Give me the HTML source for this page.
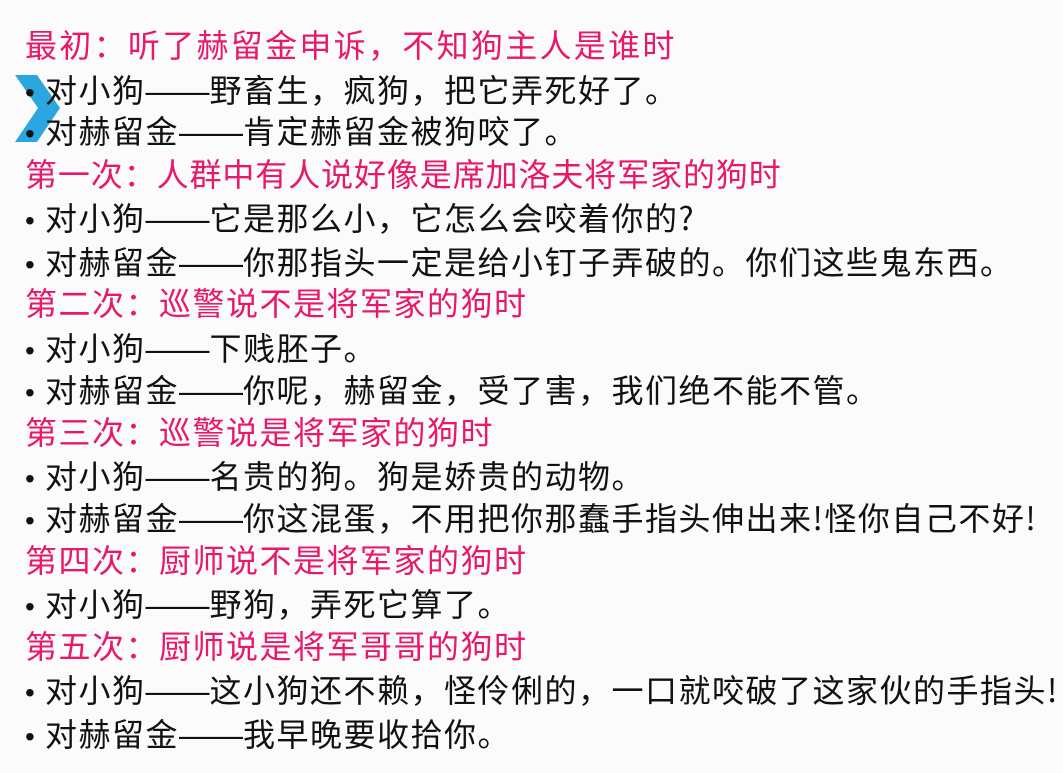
<!DOCTYPE html>
<html><head><meta charset="utf-8"><style>
html,body{margin:0;padding:0;}
body{width:1063px;height:773px;background:#fbfbfb;position:relative;overflow:hidden;
font-family:"Noto Sans CJK SC","Liberation Sans",sans-serif;}
.l{position:absolute;left:25px;font-size:32px;line-height:40px;letter-spacing:1.5px;white-space:nowrap;color:#111;}
.p{color:#e8186b;letter-spacing:2.3px;}
.b{display:inline-block;width:20px;letter-spacing:0;font-family:"Liberation Sans",sans-serif;font-size:28px;}
.d{font-family:"Liberation Sans",sans-serif;letter-spacing:0;}
</style></head><body>
<svg style="position:absolute;left:0;top:0" width="80" height="160"><polygon points="15,75 37,75 60,108 37,142 15,142 38,108" fill="#2aa6e0"/></svg>
<div class="l p" style="top:24px">最初：听了赫留金申诉，不知狗主人是谁时</div>
<div class="l" style="top:69px"><span class="b">•</span>对小狗<span class="d">——</span>野畜生，疯狗，把它弄死好了。</div>
<div class="l" style="top:110px"><span class="b">•</span>对赫留金<span class="d">——</span>肯定赫留金被狗咬了。</div>
<div class="l p" style="top:153px;letter-spacing:0.9px">第一次：人群中有人说好像是席加洛夫将军家的狗时</div>
<div class="l" style="top:197px"><span class="b">•</span>对小狗<span class="d">——</span>它是那么小，它怎么会咬着你的?</div>
<div class="l" style="top:241px"><span class="b">•</span>对赫留金<span class="d">——</span>你那指头一定是给小钉子弄破的。你们这些鬼东西。</div>
<div class="l p" style="top:282px;letter-spacing:1.5px">第二次：巡警说不是将军家的狗时</div>
<div class="l" style="top:327px"><span class="b">•</span>对小狗<span class="d">——</span>下贱胚子。</div>
<div class="l" style="top:369px"><span class="b">•</span>对赫留金<span class="d">——</span>你呢，赫留金，受了害，我们绝不能不管。</div>
<div class="l p" style="top:411px;letter-spacing:1.5px">第三次：巡警说是将军家的狗时</div>
<div class="l" style="top:455px"><span class="b">•</span>对小狗<span class="d">——</span>名贵的狗。狗是娇贵的动物。</div>
<div class="l" style="top:497px"><span class="b">•</span>对赫留金<span class="d">——</span>你这混蛋，不用把你那蠢手指头伸出来!怪你自己不好!</div>
<div class="l p" style="top:539px;letter-spacing:1.5px">第四次：厨师说不是将军家的狗时</div>
<div class="l" style="top:583px"><span class="b">•</span>对小狗<span class="d">——</span>野狗，弄死它算了。</div>
<div class="l p" style="top:625px;letter-spacing:1.5px">第五次：厨师说是将军哥哥的狗时</div>
<div class="l" style="top:669px"><span class="b">•</span>对小狗<span class="d">——</span>这小狗还不赖，怪伶俐的，一口就咬破了这家伙的手指头!</div>
<div class="l" style="top:713px"><span class="b">•</span>对赫留金<span class="d">——</span>我早晚要收拾你。</div>
</body></html>
